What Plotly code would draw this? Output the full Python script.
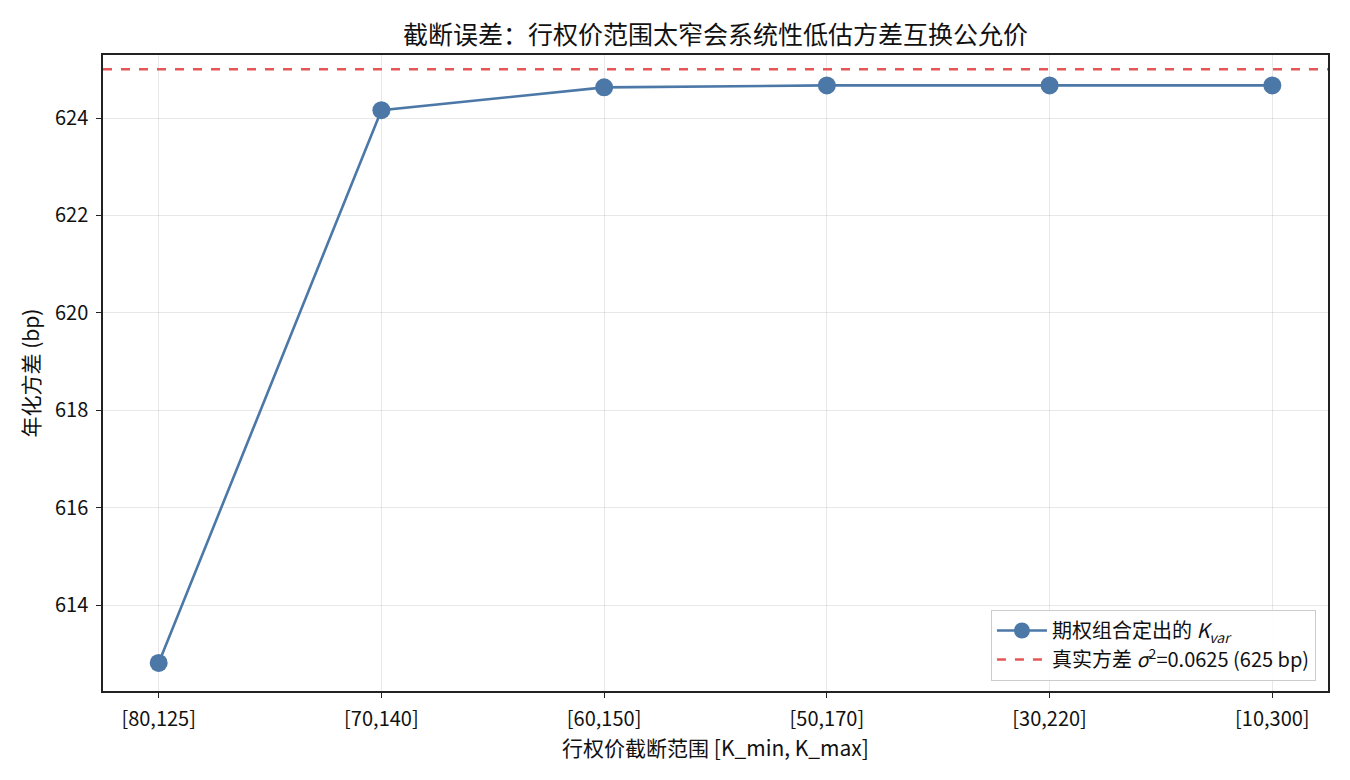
import plotly.graph_objects as go

categories = ["[80,125]", "[70,140]", "[60,150]", "[50,170]", "[30,220]", "[10,300]"]
kvar_bp = [612.81, 624.16, 624.63, 624.67, 624.67, 624.67]
true_var_bp = 625.0

FONT = "Noto Sans CJK SC, Noto Sans, DejaVu Sans, sans-serif"
xs = list(range(len(categories)))

fig = go.Figure()
fig.add_trace(go.Scatter(
    x=xs, y=kvar_bp, mode="lines+markers",
    line=dict(color="#4c78a8", width=2.6),
    marker=dict(color="#4c78a8", size=18),
    name="期权组合定出的 <i>K</i><sub><i>var</i></sub>",
))
fig.add_trace(go.Scatter(
    x=[-0.25, 5.25], y=[true_var_bp, true_var_bp], mode="lines",
    line=dict(color="#e45756", width=2.6, dash="dash"),
    name="真实方差 <i>σ</i><sup>2</sup>=0.0625 (625 bp)",
))

axis_common = dict(
    showline=True, linecolor="#222222", linewidth=1.5, mirror=True,
    ticks="outside", ticklen=5, tickwidth=1.2, tickcolor="#222222",
    showgrid=True, gridcolor="rgba(0,0,0,0.09)", gridwidth=1,
    zeroline=False, tickfont=dict(size=20, color="#111111", family=FONT),
    ticklabelstandoff=4,
)

fig.update_layout(
    width=1350, height=780,
    margin=dict(l=103, r=22, t=55, b=89),
    paper_bgcolor="white", plot_bgcolor="white",
    font=dict(family=FONT, color="#111111"),
    title=dict(text="截断误差：行权价范围太窄会系统性低估方差互换公允价",
               xref="paper", x=0.5, xanchor="center", y=0.955, yanchor="middle",
               font=dict(size=25, family=FONT, color="#111111")),
    xaxis=dict(axis_common, range=[-0.25, 5.25], tickmode="array",
               tickvals=xs, ticktext=categories,
               title=dict(text="行权价截断范围 [K_min, K_max]", font=dict(size=21, family=FONT), standoff=6)),
    yaxis=dict(axis_common, range=[612.234, 625.294], tickvals=[614, 616, 618, 620, 622, 624],
               title=dict(text="年化方差 (bp)", font=dict(size=21, family=FONT), standoff=10)),
    legend=dict(x=0.990, y=0.016, xanchor="right", yanchor="bottom",
                bgcolor="rgba(255,255,255,0.9)", bordercolor="#cccccc", borderwidth=1.2,
                font=dict(size=20, family=FONT, color="#111111"),
                itemwidth=50),
    showlegend=True,
)

fig.write_html("out.html")
